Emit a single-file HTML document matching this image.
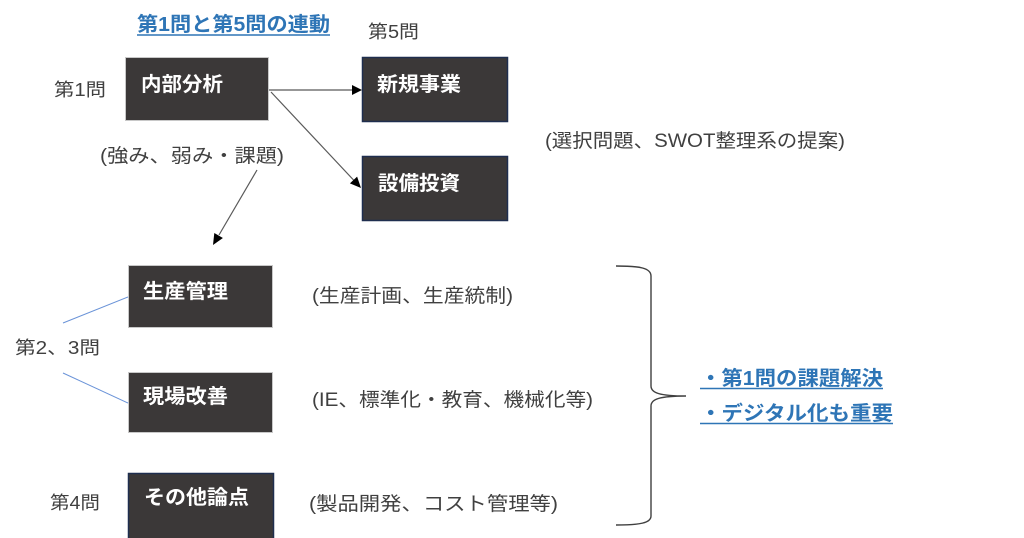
<!DOCTYPE html>
<html>
<head>
<meta charset="utf-8">
<style>
  html, body { margin:0; padding:0; background:#ffffff; }
  body { width:1024px; height:538px; overflow:hidden; }
  svg { display:block; }
  text { font-family: "Liberation Sans", "Noto Sans CJK JP", sans-serif; }
  .g { fill:#404040; font-size:19px; }
  .q { fill:#404040; font-size:18px; }
  .w { fill:#ffffff; font-size:20px; font-weight:bold; }
  .b { fill:#2E75B6; font-size:20px; font-weight:bold; }
</style>
</head>
<body>
<svg width="1024" height="538" viewBox="0 0 1024 538" xmlns="http://www.w3.org/2000/svg">
  <!-- Title -->
  <text class="b" x="137" y="31" font-size="19" textLength="193" lengthAdjust="spacingAndGlyphs">第1問と第5問の連動</text>
  <line x1="137" y1="35" x2="330" y2="35" stroke="#2E75B6" stroke-width="1.5"/>

  <!-- Question labels -->
  <text class="q" x="368" y="38" textLength="51" lengthAdjust="spacingAndGlyphs">第5問</text>
  <text class="q" x="54" y="96" textLength="52" lengthAdjust="spacingAndGlyphs">第1問</text>
  <text class="q" x="15" y="354" textLength="85" lengthAdjust="spacingAndGlyphs">第2、3問</text>
  <text class="q" x="50" y="509" textLength="50" lengthAdjust="spacingAndGlyphs">第4問</text>

  <!-- Boxes -->
  <rect x="125.5" y="57.5" width="143" height="63" fill="#3B3838" stroke="#C8C8C8" stroke-width="1"/>
  <rect x="362.5" y="57.5" width="145" height="64" fill="#3B3838" stroke="#1F2E4F" stroke-width="1.5"/>
  <rect x="362.5" y="156.5" width="145" height="64" fill="#3B3838" stroke="#1F2E4F" stroke-width="1.5"/>
  <rect x="128.5" y="265.5" width="144" height="62" fill="#3B3838" stroke="#C8C8C8" stroke-width="1"/>
  <rect x="128.5" y="372.5" width="144" height="60" fill="#3B3838" stroke="#C8C8C8" stroke-width="1"/>
  <rect x="128.5" y="473.5" width="145" height="70" fill="#3B3838" stroke="#1F2E4F" stroke-width="1.5"/>

  <!-- Box labels -->
  <text class="w" x="141" y="91" textLength="82" lengthAdjust="spacingAndGlyphs">内部分析</text>
  <text class="w" x="377" y="91" textLength="84" lengthAdjust="spacingAndGlyphs">新規事業</text>
  <text class="w" x="378" y="190" textLength="82" lengthAdjust="spacingAndGlyphs">設備投資</text>
  <text class="w" x="143" y="298" textLength="85" lengthAdjust="spacingAndGlyphs">生産管理</text>
  <text class="w" x="143" y="403" textLength="85" lengthAdjust="spacingAndGlyphs">現場改善</text>
  <text class="w" x="144" y="504" textLength="105" lengthAdjust="spacingAndGlyphs">その他論点</text>

  <!-- Descriptions -->
  <text class="g" x="100" y="162" textLength="184" lengthAdjust="spacingAndGlyphs">(強み、弱み・課題)</text>
  <text class="g" x="545" y="147" textLength="300" lengthAdjust="spacingAndGlyphs">(選択問題、SWOT整理系の提案)</text>
  <text class="g" x="312" y="302" textLength="201" lengthAdjust="spacingAndGlyphs">(生産計画、生産統制)</text>
  <text class="g" x="312" y="406" textLength="281" lengthAdjust="spacingAndGlyphs">(IE、標準化・教育、機械化等)</text>
  <text class="g" x="309" y="510" textLength="249" lengthAdjust="spacingAndGlyphs">(製品開発、コスト管理等)</text>

  <!-- Arrows -->
  <line x1="269" y1="90" x2="353" y2="90" stroke="#595959" stroke-width="1.2"/>
  <polygon points="352,85 362,90 352,95" fill="#000"/>

  <line x1="271" y1="92" x2="354" y2="180.5" stroke="#595959" stroke-width="1.2"/>
  <polygon points="361,188 349.9,183.4 357.1,176.6" fill="#000"/>

  <line x1="257" y1="170" x2="219" y2="235" stroke="#595959" stroke-width="1.2"/>
  <polygon points="213,245 214.3,233 222.9,238" fill="#000"/>

  <!-- Blue connector lines -->
  <line x1="63" y1="323" x2="128" y2="297" stroke="#6A93D8" stroke-width="1"/>
  <line x1="63" y1="373" x2="128" y2="403" stroke="#6A93D8" stroke-width="1"/>

  <!-- Brace -->
  <path d="M616,266 C640,266 651,268 651,276 L651,386 C651,393 660,396 686,396 C660,396 651,399 651,406 L651,516 C651,523 640,525 616,525" fill="none" stroke="#404040" stroke-width="1.4"/>

  <!-- Blue conclusions -->
  <text class="b" x="700" y="385" textLength="183" lengthAdjust="spacingAndGlyphs">・第1問の課題解決</text>
  <line x1="700" y1="388.5" x2="883" y2="388.5" stroke="#2E75B6" stroke-width="1.5"/>
  <text class="b" x="700" y="420" textLength="193" lengthAdjust="spacingAndGlyphs">・デジタル化も重要</text>
  <line x1="700" y1="423.5" x2="893" y2="423.5" stroke="#2E75B6" stroke-width="1.5"/>
</svg>
</body>
</html>
